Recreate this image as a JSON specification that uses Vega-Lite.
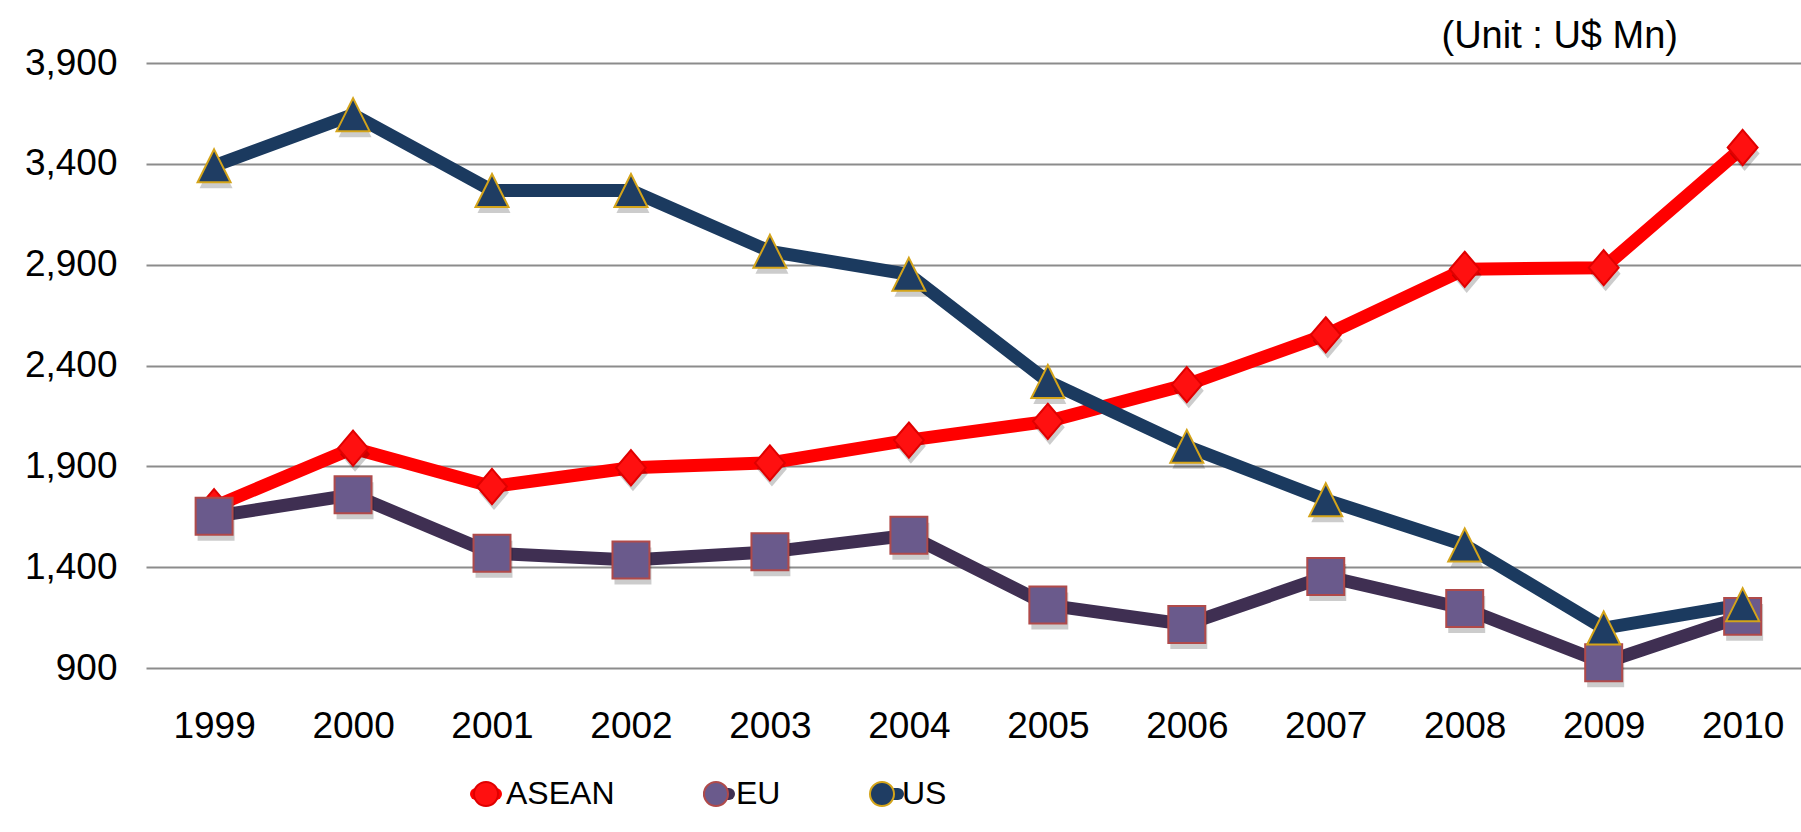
{
  "$schema": "https://vega.github.io/schema/vega-lite/v6.json",
  "width": 1655,
  "height": 605,
  "autosize": {"type": "none"},
  "padding": {"left": 146, "top": 63, "right": 0, "bottom": 164},
  "background": "#ffffff",
  "title": {
    "text": "(Unit : U$ Mn)",
    "anchor": "end",
    "frame": "group",
    "orient": "top",
    "dx": -123,
    "offset": -12,
    "font": "Liberation Sans",
    "fontSize": 38,
    "fontWeight": "normal",
    "color": "#000000"
  },
  "config": {
    "view": {"stroke": null},
    "axis": {"labelFont": "Liberation Sans", "labelFontSize": 37, "labelColor": "#000000"}
  },
  "data": {
    "values": [
      {"year": 1999, "series": "ASEAN", "value": 1700},
      {"year": 2000, "series": "ASEAN", "value": 1990},
      {"year": 2001, "series": "ASEAN", "value": 1800},
      {"year": 2002, "series": "ASEAN", "value": 1893},
      {"year": 2003, "series": "ASEAN", "value": 1917},
      {"year": 2004, "series": "ASEAN", "value": 2030},
      {"year": 2005, "series": "ASEAN", "value": 2123},
      {"year": 2006, "series": "ASEAN", "value": 2305},
      {"year": 2007, "series": "ASEAN", "value": 2552},
      {"year": 2008, "series": "ASEAN", "value": 2877},
      {"year": 2009, "series": "ASEAN", "value": 2885},
      {"year": 2010, "series": "ASEAN", "value": 3481},
      {"year": 1999, "series": "EU", "value": 1652},
      {"year": 2000, "series": "EU", "value": 1759},
      {"year": 2001, "series": "EU", "value": 1469},
      {"year": 2002, "series": "EU", "value": 1436},
      {"year": 2003, "series": "EU", "value": 1476},
      {"year": 2004, "series": "EU", "value": 1558},
      {"year": 2005, "series": "EU", "value": 1212},
      {"year": 2006, "series": "EU", "value": 1116},
      {"year": 2007, "series": "EU", "value": 1354},
      {"year": 2008, "series": "EU", "value": 1195},
      {"year": 2009, "series": "EU", "value": 926},
      {"year": 2010, "series": "EU", "value": 1156},
      {"year": 1999, "series": "US", "value": 3390},
      {"year": 2000, "series": "US", "value": 3644},
      {"year": 2001, "series": "US", "value": 3268},
      {"year": 2002, "series": "US", "value": 3268},
      {"year": 2003, "series": "US", "value": 2966},
      {"year": 2004, "series": "US", "value": 2852},
      {"year": 2005, "series": "US", "value": 2321},
      {"year": 2006, "series": "US", "value": 1999},
      {"year": 2007, "series": "US", "value": 1734},
      {"year": 2008, "series": "US", "value": 1510},
      {"year": 2009, "series": "US", "value": 1098},
      {"year": 2010, "series": "US", "value": 1214}
    ]
  },
  "encoding": {
    "x": {
      "field": "year",
      "type": "quantitative",
      "scale": {"domain": [1998.51, 2010.42], "nice": false, "zero": false},
      "axis": {
        "values": [1999, 2000, 2001, 2002, 2003, 2004, 2005, 2006, 2007, 2008, 2009, 2010],
        "format": "d",
        "title": null,
        "grid": false,
        "domain": false,
        "ticks": false,
        "labelPadding": 40,
        "labelFlush": false,
        "labelOverlap": false
      }
    },
    "y": {
      "field": "value",
      "type": "quantitative",
      "scale": {"domain": [900, 3900], "nice": false, "zero": false},
      "axis": {
        "values": [900, 1400, 1900, 2400, 2900, 3400, 3900],
        "format": ",d",
        "title": null,
        "grid": true,
        "gridColor": "#8c8c8c",
        "gridWidth": 2,
        "gridOpacity": 1,
        "domain": false,
        "ticks": false,
        "labelPadding": 29
      }
    }
  },
  "layer": [
    {
      "mark": {"type": "line", "strokeWidth": 13, "strokeJoin": "round", "strokeCap": "round"},
      "encoding": {
        "color": {
          "field": "series",
          "type": "nominal",
          "scale": {"domain": ["ASEAN", "EU", "US"], "range": ["#ff0000", "#3f2f52", "#1b3a5f"]},
          "legend": {
            "title": null,
            "orient": "none",
            "legendX": 324,
            "legendY": 715,
            "direction": "horizontal",
            "symbolType": "stroke",
            "symbolSize": 400,
            "symbolStrokeWidth": 12,
            "labelFont": "Liberation Sans",
            "labelFontSize": 32,
            "labelOffset": 4,
            "labelOpacity": 0,
            "columnPadding": 70,
            "padding": 0,
            "zindex": 1,
            "encode": {
              "symbols": {"update": {"strokeCap": {"value": "round"}}}
            }
          }
        }
      }
    },
    {
      "mark": {"type": "point", "filled": true, "size": 1936, "color": "#000000", "opacity": 0.2, "xOffset": 2, "yOffset": 6, "strokeWidth": 0},
      "encoding": {
        "shape": {
          "field": "series",
          "type": "nominal",
          "scale": {"range": ["M0,-0.8L0.68,0L0,0.8L-0.68,0Z", "M-0.84,-0.84L0.84,-0.84L0.84,0.84L-0.84,0.84Z", "M0,-0.75L0.75,0.75L-0.75,0.75Z"]},
          "legend": null
        }
      }
    },
    {
      "mark": {"type": "point", "filled": true, "size": 1936, "opacity": 1, "strokeWidth": 2},
      "encoding": {
        "shape": {
          "field": "series",
          "type": "nominal",
          "scale": {"range": ["M0,-0.8L0.68,0L0,0.8L-0.68,0Z", "M-0.84,-0.84L0.84,-0.84L0.84,0.84L-0.84,0.84Z", "M0,-0.75L0.75,0.75L-0.75,0.75Z"]},
          "legend": null
        },
        "fill": {
          "field": "series",
          "type": "nominal",
          "scale": {"range": ["#ff1010", "#6a5a8c", "#1f3d63"]},
          "legend": {
            "title": null, "orient": "none", "legendX": 324, "legendY": 715, "direction": "horizontal",
            "symbolSize": 576, "symbolStrokeWidth": 2,
            "labelFont": "Liberation Sans", "labelFontSize": 32, "labelOffset": 4,
            "columnPadding": 85, "padding": 0, "zindex": 2,
            "encode": {
              "symbols": {
                "update": {
                  "shape": {"value": {"expr": "datum.value === 'ASEAN' ? 'M0,-0.8L0.68,0L0,0.8L-0.68,0Z' : datum.value === 'EU' ? 'M-0.84,-0.84L0.84,-0.84L0.84,0.84L-0.84,0.84Z' : 'M0,-0.75L0.75,0.75L-0.75,0.75Z'"}},
                  "stroke": {"value": {"expr": "datum.value === 'ASEAN' ? '#e00000' : datum.value === 'EU' ? '#b04a4a' : '#d4a41a'"}},
                  "strokeWidth": {"value": 2},
                  "opacity": {"value": 1}
                }
              }
            }
          }
        },
        "stroke": {
          "field": "series",
          "type": "nominal",
          "scale": {"range": ["#e00000", "#b04a4a", "#d4a41a"]},
          "legend": null
        }
      }
    }
  ]
}
